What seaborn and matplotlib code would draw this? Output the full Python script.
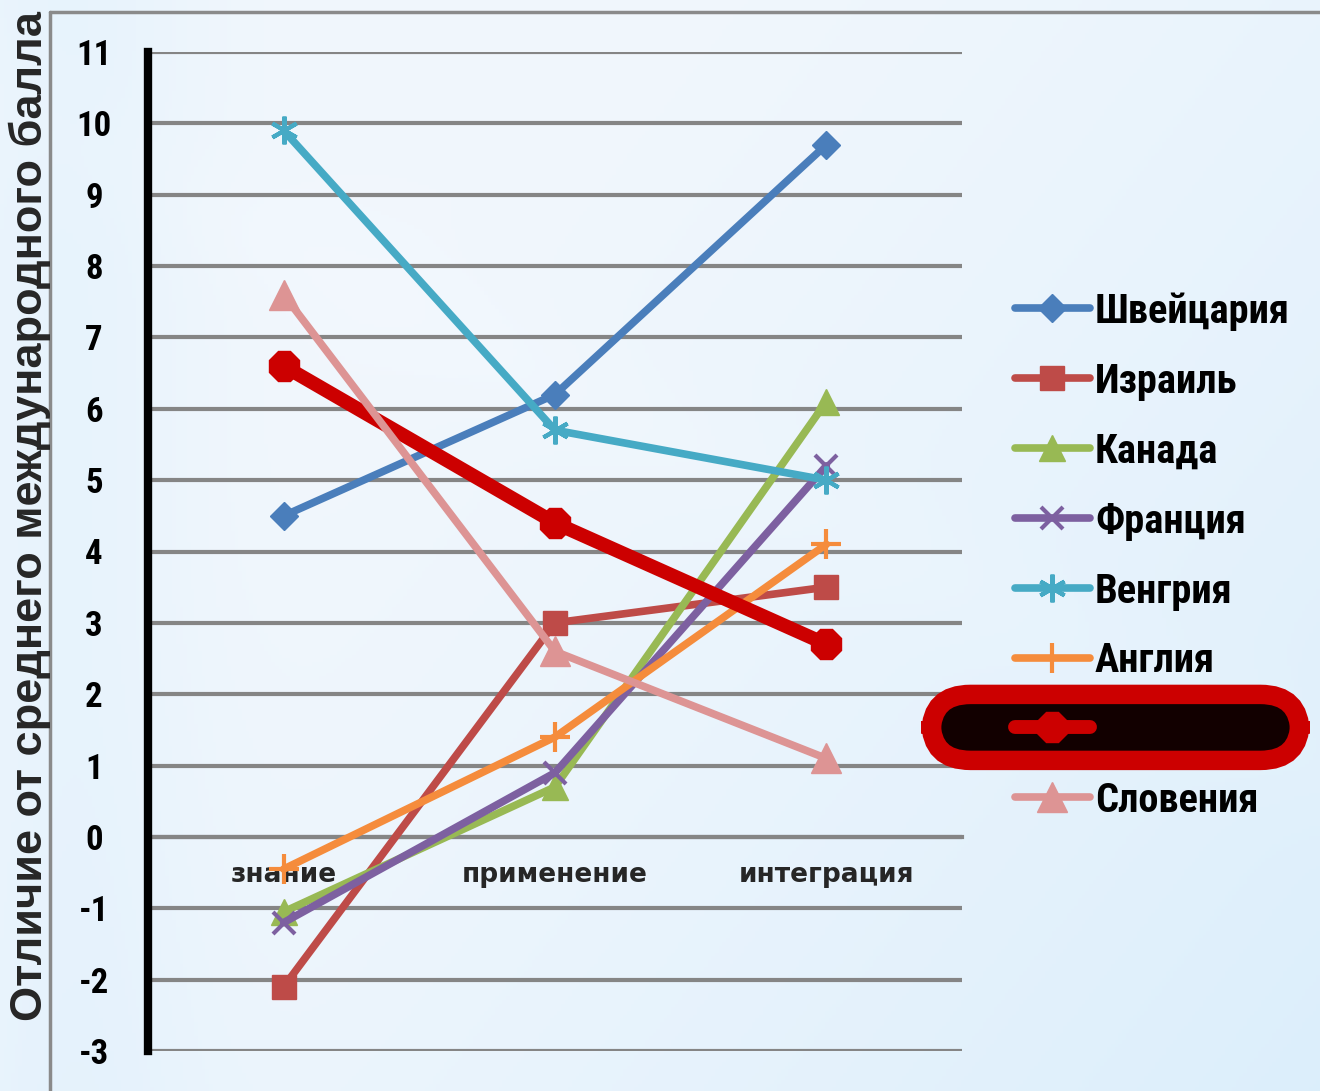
import numpy as np
import pandas as pd
import matplotlib
matplotlib.use("Agg")
import matplotlib.pyplot as plt
import seaborn as sns
from matplotlib import font_manager as fm
from matplotlib.lines import Line2D
from matplotlib.patches import FancyBboxPatch

# Categories and per-country differences from the international mean
categories = ["знание", "применение", "интеграция"]
countries = ["Швейцария", "Израиль", "Канада", "Франция", "Венгрия", "Англия", "Россия", "Словения"]
switzerland = [4.5, 6.2, 9.7]
israel = [-2.1, 3.0, 3.5]
canada = [-1.05, 0.7, 6.1]
france = [-1.2, 0.9, 5.2]
hungary = [9.9, 5.7, 5.0]
england = [-0.45, 1.4, 4.1]
russia = [6.6, 4.4, 2.7]
slovenia = [7.6, 2.6, 1.1]
series = [switzerland, israel, canada, france, hungary, england, russia, slovenia]
yticks = list(range(-3, 12))

rows = []
for name, vals in zip(countries, series):
    for i, (cat, v) in enumerate(zip(categories, vals)):
        rows.append({"country": name, "category": cat, "pos": i, "value": v})
df = pd.DataFrame(rows)

sns.set_style("white")
plt.rcParams["font.family"] = ["Liberation Sans", "DejaVu Sans"]


def narrow_font(bold=True):
    """Pick a condensed sans face if one is installed, else a bold Liberation Sans."""
    prefs = ["liberation sans narrow", "arial narrow", "roboto condensed",
             "dejavu sans condensed", "dejavu sans", "open sans condensed", "noto sans"]
    best, best_score = None, None
    for f in fm.fontManager.ttflist:
        key = (f.name + " " + f.fname).lower()
        st = str(f.stretch).lower()
        if not ("narrow" in key or "condensed" in key or "condensed" in st):
            continue
        if "oblique" in key or "italic" in key:
            continue
        w = f.weight if isinstance(f.weight, (int, float)) else (700 if "bold" in str(f.weight).lower() else 400)
        isbold = w >= 600 or "bold" in key
        rank = next((i for i, p in enumerate(prefs) if p in key), len(prefs))
        score = (0 if isbold == bold else 1, rank)
        if best_score is None or score < best_score:
            best, best_score = f, score
    if best is None:
        return fm.FontProperties(family=["Liberation Sans", "DejaVu Sans"],
                                 weight="bold" if bold else "normal")
    return fm.FontProperties(fname=best.fname)


narrow_bold = narrow_font(True)

styles = {
    "Швейцария": dict(color="#4a7ebb", marker="D", ms=14, lw=5.5, mew=1),
    "Израиль": dict(color="#be4b48", marker="s", ms=17, lw=5.5, mew=1),
    "Канада": dict(color="#98b954", marker="^", ms=19, lw=5.5, mew=1),
    "Франция": dict(color="#7d60a0", marker="x", ms=16, lw=5.5, mew=3),
    "Венгрия": dict(color="#46aac5", marker=(6, 2, 0), ms=20, lw=5.5, mew=3),
    "Англия": dict(color="#f58c3c", marker="+", ms=22, lw=5.5, mew=3),
    "Россия": dict(color="#cc0000", marker="8", ms=23, lw=10, mew=1),
    "Словения": dict(color="#dd9494", marker="^", ms=21, lw=5.5, mew=1),
}

W, H = 1320, 1091
fig = plt.figure(figsize=(W / 100, H / 100), dpi=100)
renderer = fig.canvas.get_renderer()


def fit_size(text_obj, target_px, horizontal=True, max_size=40):
    ext = text_obj.get_window_extent(renderer)
    cur = ext.width if horizontal else ext.height
    size = text_obj.get_fontsize() * target_px / cur
    text_obj.set_fontsize(min(size, max_size))


# soft bluish backdrop
bg = fig.add_axes([0, 0, 1, 1], zorder=-10)
yy, xx = np.mgrid[0:1:300j, 0:1:360j]
base = np.zeros((300, 360, 3))
light = np.array([0.945, 0.968, 0.992])
blue = np.array([0.80, 0.91, 0.98])
t = np.clip(0.55 * xx + 0.35 * (1 - yy) - 0.25, 0, 1) ** 1.3
t += 0.25 * np.exp(-((xx - 0.05) ** 2) / 0.01)
t = np.clip(t, 0, 1)
streak = 0.10 * np.exp(-((yy - (0.9 - 0.6 * xx)) ** 2) / 0.004)
for c in range(3):
    base[..., c] = light[c] * (1 - t) + blue[c] * t + streak * (1 - light[c])
bg.imshow(np.clip(base, 0, 1), aspect="auto", extent=[0, 1, 0, 1], origin="lower")
bg.set_axis_off()

# chart-area border (top and left edges)
fig.add_artist(Line2D([50 / W, 50 / W], [0, 1 - 12 / H], transform=fig.transFigure,
                      color="#8a8a8a", lw=2.5))
fig.add_artist(Line2D([50 / W, 1], [1 - 12 / H, 1 - 12 / H], transform=fig.transFigure,
                      color="#8a8a8a", lw=2.5))

ax = fig.add_axes([148 / W, 40 / H, (962 - 148) / W, (1051 - 52) / H])
ax.patch.set_alpha(0)

for y in yticks:
    ax.axhline(y, color="#858585", lw=3, zorder=1)

for name in countries:
    st = styles[name]
    sub = df[df["country"] == name]
    sns.lineplot(data=sub, x="pos", y="value", ax=ax, color=st["color"], lw=st["lw"],
                 marker=st["marker"], markersize=st["ms"], markeredgewidth=st["mew"],
                 markeredgecolor=st["color"], legend=False, zorder=3, sort=False)

ax.set_xlim(-0.5, 2.5)
ax.set_ylim(-3, 11)
ax.set_xlabel("")
ax.set_ylabel("")

for s in ["top", "right"]:
    ax.spines[s].set_visible(False)
ax.spines["left"].set_color("black")
ax.spines["left"].set_linewidth(6)
ax.spines["left"].set_zorder(4)
ax.spines["bottom"].set_position(("data", 0))
ax.spines["bottom"].set_color("#858585")
ax.spines["bottom"].set_linewidth(3)

ax.set_yticks(yticks)
ax.set_yticklabels([str(v) for v in yticks])
ax.tick_params(axis="y", direction="out", length=8, width=6, color="black", pad=31,
               labelcolor="black")
for lab in ax.get_yticklabels():
    lab.set_fontproperties(narrow_bold)
    lab.set_fontsize(25)
    lab.set_horizontalalignment("center")

ax.set_xticks([0, 1, 2])
ax.set_xticklabels(categories, fontsize=19, fontweight="bold", family=["DejaVu Sans"])
ax.set_xticks([-0.5, 1.5, 2.5], minor=True)
ax.tick_params(axis="x", which="major", length=0, pad=18)
ax.tick_params(axis="x", which="minor", direction="out", length=8, width=3, color="#858585")

ylab = fig.text(30 / W, 1 - 516 / H, "Отличие от среднего международного балла", rotation=90,
                ha="center", va="center", fontsize=30, fontweight="bold",
                family=["Liberation Sans", "DejaVu Sans"])
fit_size(ylab, 1008, horizontal=False)

# legend, one row per country
leg_y0, leg_dy = 308, 69.9
for i, name in enumerate(countries):
    st = styles[name]
    yf = 1 - (leg_y0 + i * leg_dy) / H
    if name == "Россия":
        fig.add_artist(FancyBboxPatch((931 / W, yf - 33 / H), (1300 - 931) / W, 66 / H,
                                      boxstyle="round,pad=0,rounding_size=0.03",
                                      transform=fig.transFigure, facecolor="#120000",
                                      edgecolor="#cc0000", lw=14, zorder=5,
                                      mutation_aspect=1.2))
    handle = Line2D([1015 / W, 1052 / W, 1090 / W], [yf, yf, yf], transform=fig.transFigure,
                    color=st["color"], lw=st["lw"], marker=st["marker"], markevery=[1],
                    markersize=st["ms"], markeredgewidth=st["mew"],
                    markeredgecolor=st["color"], zorder=6, solid_capstyle="round")
    fig.add_artist(handle)
    txt = fig.text(1095 / W, yf, name, ha="left", va="center_baseline",
                   fontproperties=narrow_bold, fontsize=28, zorder=6,
                   color="#120000" if name == "Россия" else "black")
    if i == 0:
        fit_size(txt, 195, max_size=30)
        leg_size = txt.get_fontsize()
    else:
        txt.set_fontsize(leg_size)

fig.savefig("out.png", dpi=100)
